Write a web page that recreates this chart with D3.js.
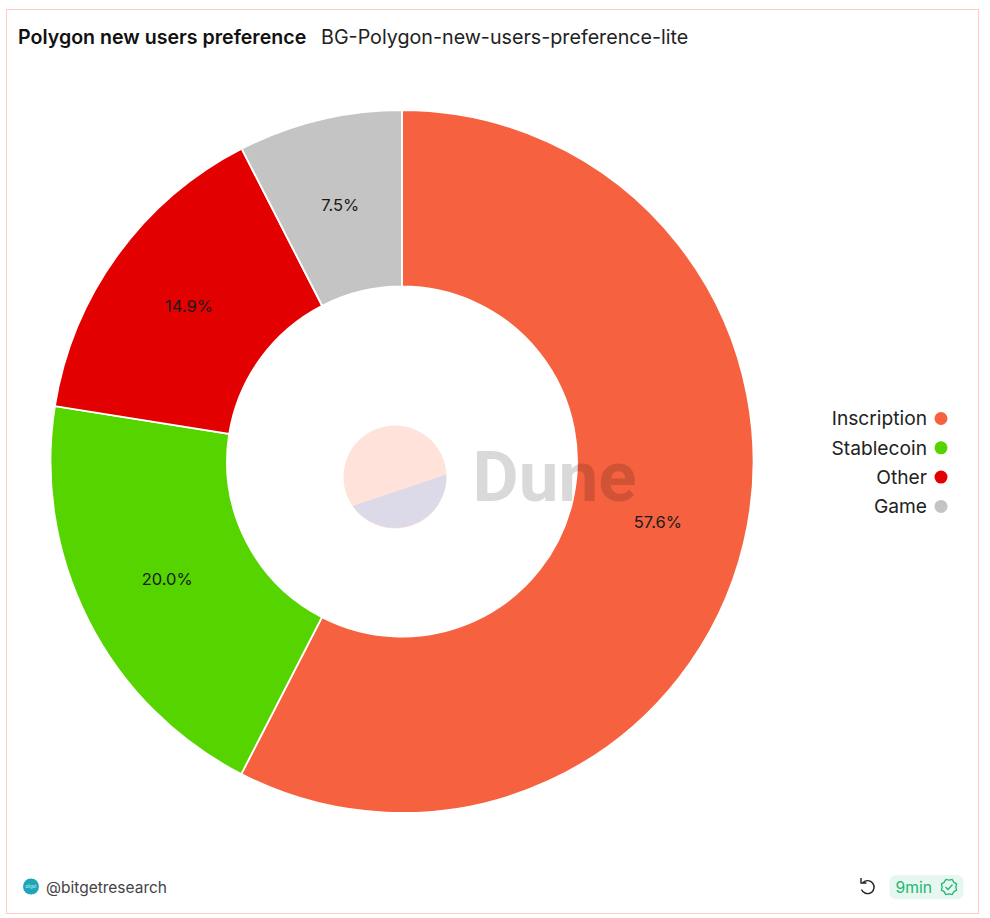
<!DOCTYPE html>
<html>
<head>
<meta charset="utf-8">
<script src="https://cdn.jsdelivr.net/npm/d3@7"></script>
<style>
  html, body { margin: 0; padding: 0; background: #fff; }
  svg { display: block; }
  text { font-family: "Inter", "Noto Sans", sans-serif; }
</style>
</head>
<body>
<svg id="chart"></svg>
<script>
  var categories = ['Inscription', 'Stablecoin', 'Other', 'Game'];
  var shares = [57.56, 19.96, 14.94, 7.54];
  var colors = ['#f66240', '#55d400', '#e30000', '#c4c4c4'];

  var width = 990,
    height = 918,
    outerRadius = 351.5,
    innerRadius = 175,
    cx = 402,
    cy = 461.5;

  var svg = d3.select('#chart')
    .attr('width', width)
    .attr('height', height);

  svg.append('rect')
    .attr('x', 6.5)
    .attr('y', 9.5)
    .attr('width', 972)
    .attr('height', 904)
    .attr('fill', '#fff')
    .attr('stroke', '#ffcbc2');

  // title
  svg.append('text')
    .attr('x', 18)
    .attr('y', 43.5)
    .attr('font-size', 19.6)
    .attr('font-weight', 600)
    .attr('fill', '#111')
    .text('Polygon new users preference');

  svg.append('text')
    .attr('x', 321)
    .attr('y', 43.5)
    .attr('font-size', 19.7)
    .attr('fill', '#222')
    .text('BG-Polygon-new-users-preference-lite');

  // donut
  var pie = d3.pie().sort(null);
  var arc = d3.arc()
    .innerRadius(innerRadius)
    .outerRadius(outerRadius);

  var g = svg.append('g')
    .attr('transform', 'translate(' + cx + ',' + cy + ')');

  var slices = pie(shares);

  g.selectAll('path')
    .data(slices)
    .enter().append('path')
    .attr('fill', function (d, i) {
      return colors[i];
    })
    .attr('stroke', '#fff')
    .attr('stroke-width', 1.8)
    .attr('d', arc);

  g.selectAll('text')
    .data(slices)
    .enter().append('text')
    .attr('transform', function (d) {
      return 'translate(' + arc.centroid(d) + ')';
    })
    .attr('text-anchor', 'middle')
    .attr('dy', '0.3em')
    .attr('font-size', 16.5)
    .attr('fill', '#1a1a1a')
    .text(function (d) {
      return d.data.toFixed(1) + '%';
    });

  // watermark
  var mark = svg.append('g');
  mark.append('circle')
    .attr('cx', 395)
    .attr('cy', 477)
    .attr('r', 51.5)
    .attr('fill', '#ffe2da');
  mark.append('path')
    .attr('d', 'M446.4,474.5 A51.5,51.5 0 0 1 352.8,506 Z')
    .attr('fill', '#dcdae8');
  mark.append('text')
    .attr('x', 472.5)
    .attr('y', 501)
    .style('font-family', 'Roboto')
    .attr('font-size', 71)
    .attr('font-weight', 700)
    .attr('fill', '#000')
    .attr('fill-opacity', 0.15)
    .text('Dune');

  // legend
  var legend = svg.append('g')
    .selectAll('g')
    .data(categories)
    .enter().append('g')
    .attr('transform', function (d, i) {
      return 'translate(0,' + (418.5 + i * 29.3) + ')';
    });

  legend.append('text')
    .attr('x', 927)
    .attr('dy', '0.35em')
    .attr('text-anchor', 'end')
    .attr('font-size', 19.2)
    .attr('fill', '#222')
    .text(function (d) {
      return d;
    });

  legend.append('circle')
    .attr('cx', 941)
    .attr('r', 6.5)
    .attr('fill', function (d, i) {
      return colors[i];
    });

  // footer
  svg.append('circle')
    .attr('cx', 31)
    .attr('cy', 886.5)
    .attr('r', 8)
    .attr('fill', '#1fa5b8');

  svg.append('text')
    .attr('x', 31)
    .attr('y', 888)
    .attr('text-anchor', 'middle')
    .attr('font-size', 4)
    .attr('fill', '#d8f2f5')
    .text('bitget');

  svg.append('text')
    .attr('x', 46)
    .attr('y', 893)
    .attr('font-size', 15.5)
    .attr('fill', '#444')
    .text('@bitgetresearch');

  // refresh icon
  svg.append('path')
    .attr('d', 'M863,882.5 A6.5,6.5 0 1 1 861.5,889.5 M861,878 V883 H866.5')
    .attr('fill', 'none')
    .attr('stroke', '#222')
    .attr('stroke-width', 1.4);

  // freshness badge
  svg.append('rect')
    .attr('x', 889.5)
    .attr('y', 875)
    .attr('width', 74)
    .attr('height', 24)
    .attr('rx', 6)
    .attr('fill', '#e6f7ef');

  svg.append('text')
    .attr('x', 895.5)
    .attr('y', 893)
    .attr('font-size', 15.7)
    .attr('fill', '#22b573')
    .text('9min');

  svg.append('path')
    .attr('d', d3.lineRadial().curve(d3.curveLinearClosed)
      .angle(function (d, i) { return i * Math.PI / 8; })
      .radius(function (d, i) { return i % 2 ? 8.2 : 6.8; })(d3.range(16)))
    .attr('transform', 'translate(949,887)')
    .attr('fill', 'none')
    .attr('stroke', '#22b573')
    .attr('stroke-width', 1.3);

  svg.append('path')
    .attr('d', 'M945.5,887 L948,889.5 L952.5,884.5')
    .attr('fill', 'none')
    .attr('stroke', '#22b573')
    .attr('stroke-width', 1.3);
</script>
</body>
</html>
